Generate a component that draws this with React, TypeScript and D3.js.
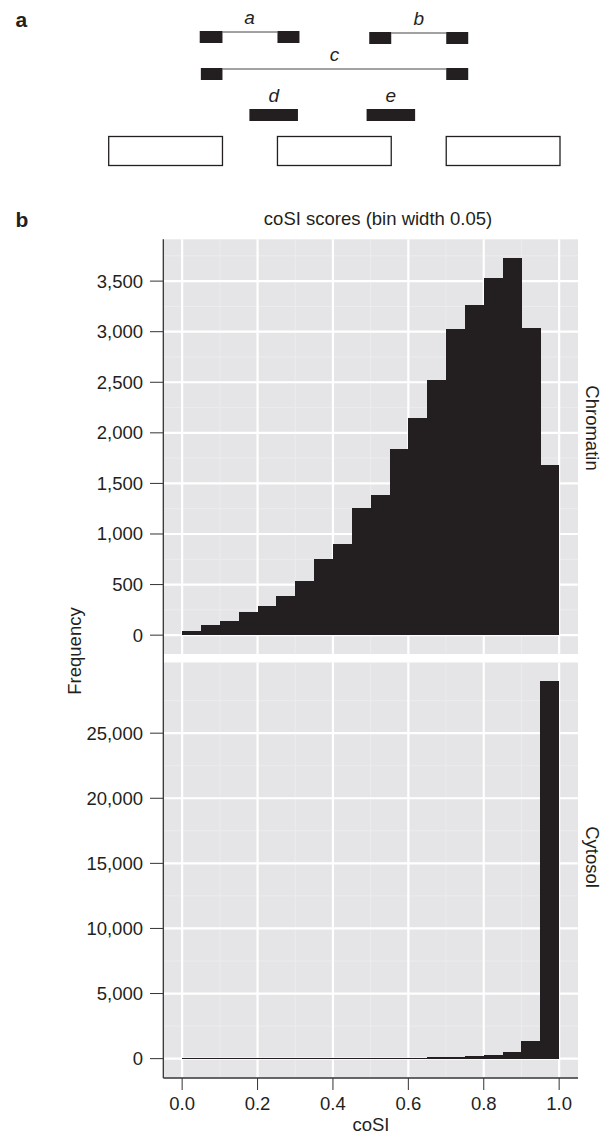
import { scaleLinear } from "d3";
import { format } from "d3";

// Histogram bins (coSI, bin width 0.05)
const binStarts = [0, 0.05, 0.1, 0.15, 0.2, 0.25, 0.3, 0.35, 0.4, 0.45, 0.5, 0.55, 0.6, 0.65, 0.7, 0.75, 0.8, 0.85, 0.9, 0.95];
const binWidth = 0.05;

const chromatinCounts = [40, 96, 138, 227, 293, 389, 537, 751, 906, 1259, 1387, 1836, 2146, 2521, 3029, 3260, 3527, 3727, 3032, 1678];
const cytosolCounts = [40, 40, 45, 45, 50, 50, 55, 55, 60, 60, 65, 70, 80, 120, 140, 200, 290, 540, 1380, 28980];

const xTicks = [0, 0.2, 0.4, 0.6, 0.8, 1.0];
const xMinor = [0.1, 0.3, 0.5, 0.7, 0.9];
const chromatinTicks = [0, 500, 1000, 1500, 2000, 2500, 3000, 3500];
const chromatinMinor = [250, 750, 1250, 1750, 2250, 2750, 3250, 3750];
const cytosolTicks = [0, 5000, 10000, 15000, 20000, 25000];
const cytosolMinor = [2500, 7500, 12500, 17500, 22500, 27500];

// Panel a schematic (genomic units)
const exons = [
  [0, 300],
  [445, 745],
  [890, 1190],
];
const readNames = ["a", "b", "c", "d", "e"];
const readBlocks = [
  [[240, 300], [445, 503]],
  [[687, 745], [890, 948]],
  [[243, 300], [890, 948]],
  [[371, 499]],
  [[680, 808]],
];

const W = 611;
const H = 1134;
const FONT = "'Liberation Sans', Arial, Helvetica, sans-serif";
const INK = "#231f20";
const PANEL_BG = "#e5e5e7";

// layout for panel a
const readTop = [31, 32, 68, 109, 109];
const readH = 12;
const exonTop = 136.5;
const exonH = 29;

export default function App() {
  const sx = scaleLinear().domain([0, 1190]).range([108.7, 560]);

  const left = 163.3;
  const right = 578;
  const x = scaleLinear().domain([-0.05, 1.05]).range([left, right]);

  const chromMax = Math.max(...chromatinCounts);
  const cytoMax = Math.max(...cytosolCounts);
  const panels = [
    {
      name: "Chromatin",
      counts: chromatinCounts,
      ticks: chromatinTicks,
      minor: chromatinMinor,
      y: scaleLinear().domain([-0.05 * chromMax, 1.05 * chromMax]).range([654, 239.3]),
      top: 239.3,
      bottom: 654,
      labelY: 428,
    },
    {
      name: "Cytosol",
      counts: cytosolCounts,
      ticks: cytosolTicks,
      minor: cytosolMinor,
      y: scaleLinear().domain([-0.05 * cytoMax, 1.05 * cytoMax]).range([1077.5, 662.5]),
      top: 662.5,
      bottom: 1077.5,
      labelY: 857,
    },
  ];

  const fmt = format(",");

  return (
    <div style={{ position: "absolute", left: 0, top: 0 }}>
      <svg width={W} height={H} viewBox={`0 0 ${W} ${H}`} style={{ display: "block", background: "#fff" }} fontFamily={FONT}>
        {/* Panel a */}
        <text x={15.5} y={26.5} fontSize={21} fontWeight="bold" fill={INK}>a</text>
        {readBlocks.map((blocks, i) => {
          const top = readTop[i];
          const first = blocks[0];
          const last = blocks[blocks.length - 1];
          const mid = (sx(first[0]) + sx(last[1])) / 2;
          return (
            <g key={readNames[i]}>
              {blocks.length > 1 && (
                <line
                  x1={sx(first[1])}
                  x2={sx(last[0])}
                  y1={top + 1}
                  y2={top + 1}
                  stroke="#444"
                  strokeWidth={1}
                />
              )}
              {blocks.map((b, j) => (
                <rect key={j} x={sx(b[0])} y={top} width={sx(b[1]) - sx(b[0])} height={readH} fill={INK} />
              ))}
              <text x={mid} y={top - 7} textAnchor="middle" fontSize={19} fontStyle="italic" fill={INK}>
                {readNames[i]}
              </text>
            </g>
          );
        })}
        {exons.map((e, i) => (
          <rect
            key={i}
            x={sx(e[0])}
            y={exonTop}
            width={sx(e[1]) - sx(e[0])}
            height={exonH}
            fill="#fff"
            stroke={INK}
            strokeWidth={1.3}
          />
        ))}

        {/* Panel b */}
        <text x={15.5} y={226.5} fontSize={21} fontWeight="bold" fill={INK}>b</text>
        <text x={378} y={225} textAnchor="middle" fontSize={18.5} fill={INK}>
          coSI scores (bin width 0.05)
        </text>

        {panels.map((p) => (
          <g key={p.name}>
            <rect x={left} y={p.top} width={right - left} height={p.bottom - p.top} fill={PANEL_BG} />
            {xMinor.map((v) => (
              <line key={`xm${v}`} x1={x(v)} x2={x(v)} y1={p.top} y2={p.bottom} stroke="#ececee" strokeWidth={1} />
            ))}
            {p.minor.map((v) => (
              <line key={`ym${v}`} x1={left} x2={right} y1={p.y(v)} y2={p.y(v)} stroke="#ececee" strokeWidth={1} />
            ))}
            {xTicks.map((v) => (
              <line key={`x${v}`} x1={x(v)} x2={x(v)} y1={p.top} y2={p.bottom} stroke="#fff" strokeWidth={2.2} />
            ))}
            {p.ticks.map((v) => (
              <line key={`y${v}`} x1={left} x2={right} y1={p.y(v)} y2={p.y(v)} stroke="#fff" strokeWidth={2.2} />
            ))}
            <g shapeRendering="crispEdges">
              {p.counts.map((c, i) => (
                <rect
                  key={i}
                  x={x(binStarts[i])}
                  y={p.y(c)}
                  width={x(binStarts[i] + binWidth) - x(binStarts[i]) + (i < p.counts.length - 1 ? 1 : 0)}
                  height={Math.max(p.y(0) - p.y(c), 1)}
                  fill={INK}
                />
              ))}
            </g>
            {p.ticks.map((v) => (
              <g key={`t${v}`}>
                <line x1={150} x2={left} y1={p.y(v)} y2={p.y(v)} stroke="#333" strokeWidth={1} />
                <text x={143} y={p.y(v)} dy="0.35em" textAnchor="end" fontSize={18.5} fill={INK}>
                  {fmt(v)}
                </text>
              </g>
            ))}
            <text
              transform={`translate(592,${p.labelY}) rotate(90)`}
              textAnchor="middle"
              dy="0.35em"
              fontSize={18.5}
              fill={INK}
            >
              {p.name}
            </text>
          </g>
        ))}

        {/* Axes */}
        <line x1={left} x2={left} y1={239.3} y2={1078} stroke="#333" strokeWidth={1.3} />
        <line x1={left} x2={right} y1={1078} y2={1078} stroke="#333" strokeWidth={1.3} />
        {xTicks.map((v) => (
          <g key={`xt${v}`}>
            <line x1={x(v)} x2={x(v)} y1={1078} y2={1090} stroke="#333" strokeWidth={1} />
            <text x={x(v)} y={1110} textAnchor="middle" fontSize={18.5} fill={INK}>
              {format(".1f")(v)}
            </text>
          </g>
        ))}
        <text x={371} y={1131} textAnchor="middle" fontSize={18.5} fill={INK}>coSI</text>
        <text transform="translate(81,651) rotate(-90)" textAnchor="middle" fontSize={18.5} fill={INK}>
          Frequency
        </text>
      </svg>
    </div>
  );
}
